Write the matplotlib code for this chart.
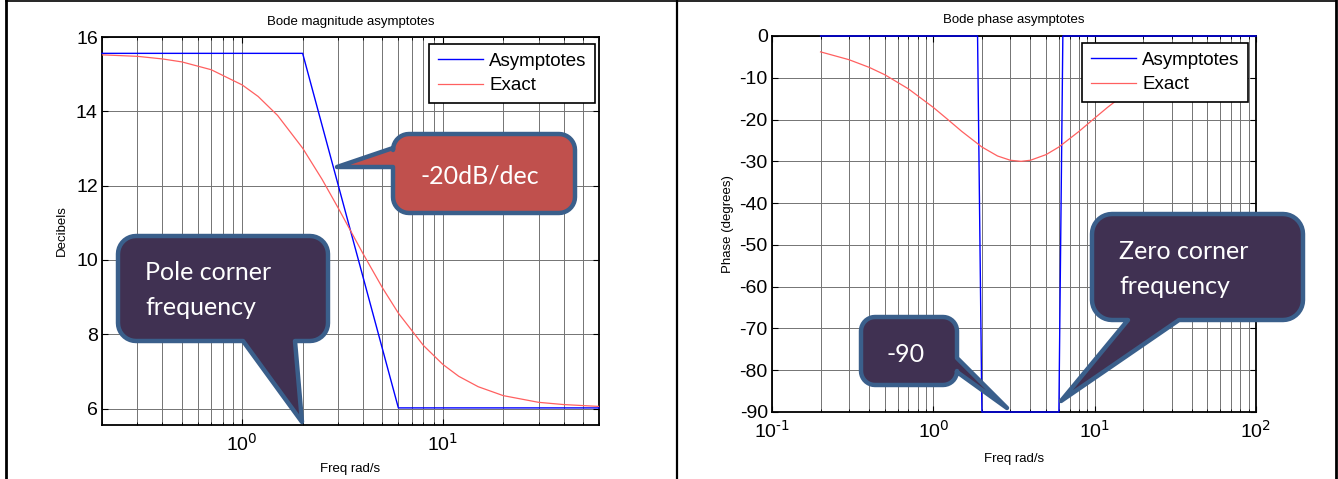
import matplotlib
matplotlib.use("Agg")
import matplotlib.pyplot as plt
import numpy as np
from matplotlib.patches import Polygon
from matplotlib.ticker import LogLocator, NullFormatter, FuncFormatter

# data
mag_freq = [0.2, 0.3, 0.4, 0.5, 0.7, 1, 1.2, 1.5, 2, 2.5, 3, 4, 5, 6, 8, 10, 12, 15, 20, 30, 40, 60]
mag_exact = [15.52, 15.48, 15.41, 15.33, 15.12, 14.71, 14.40, 13.89, 13.01, 12.17, 11.41, 10.17,
             9.25, 8.57, 7.70, 7.19, 6.87, 6.59, 6.35, 6.17, 6.11, 6.06]
mag_asym_freq = [0.2, 2, 6, 60]
mag_asym_db = [15.56, 15.56, 6.02, 6.02]

phase_freq = [0.2, 0.3, 0.4, 0.5, 0.7, 1, 1.2, 1.5, 2, 2.5, 3, 3.5, 4, 5, 6, 8, 10, 12, 15, 20, 30, 40, 60]
phase_exact = [-3.80, -5.67, -7.50, -9.27, -12.64, -17.10, -19.65, -22.83, -26.57, -28.72, -29.74,
               -30.0, -29.74, -28.39, -26.57, -22.83, -19.65, -17.10, -14.21, -10.99, -7.50, -5.67, -3.80]
phase_asym_freq = [0.2, 1.88, 2, 6, 6.35, 100]
phase_asym_deg = [0, 0, -90, -90, 0, 0]

W, H = 1338, 479
plt.rcParams['font.family'] = ['Liberation Sans', 'DejaVu Sans']
plt.rcParams['axes.unicode_minus'] = False
fig = plt.figure(figsize=(W / 100, H / 100), dpi=100)

ax1 = fig.add_axes([102 / W, 1 - 425 / H, (599 - 102) / W, (425 - 37) / H])
ax2 = fig.add_axes([772 / W, 1 - 412 / H, (1256 - 772) / W, (412 - 36) / H])

ax1.plot(mag_asym_freq, mag_asym_db, color='#0000ff', lw=1.0, label='Asymptotes', zorder=3, clip_on=False)
ax1.plot(mag_freq, mag_exact, color='#ff6060', lw=0.9, label='Exact', zorder=3)
ax1.set_xscale('log')
ax1.set_xlim(0.2, 60)
ax1.set_ylim(5.56, 16)
ax1.set_yticks([6, 8, 10, 12, 14, 16])
ax1.set_title('Bode magnitude asymptotes', fontsize=9.5, pad=9)
ax1.set_xlabel('Freq rad/s', fontsize=9.5, labelpad=6)
ax1.set_ylabel('Decibels', fontsize=9.5, labelpad=6)

ax2.plot(phase_asym_freq, phase_asym_deg, color='#0000ff', lw=1.0, label='Asymptotes', zorder=3, clip_on=False)
ax2.plot(phase_freq, phase_exact, color='#ff6060', lw=0.9, label='Exact', zorder=3)
ax2.set_xscale('log')
ax2.set_xlim(0.1, 100)
ax2.set_ylim(-90, 0)
ax2.set_yticks(np.arange(-90, 1, 10))
ax2.set_title('Bode phase asymptotes', fontsize=9.5, pad=9)
ax2.set_xlabel('Freq rad/s', fontsize=9.5, labelpad=8)
ax2.set_ylabel('Phase (degrees)', fontsize=9.5, labelpad=4)

# MATLAB style 10^n labels, plain hyphen in the exponent
decade_fmt = FuncFormatter(lambda v, pos: r'$\mathregular{10^{\text{%d}}}$' % round(np.log10(v)))

for ax, anchor in [(ax1, (0.992, 0.982)), (ax2, (0.984, 0.981))]:
    ax.xaxis.set_major_formatter(decade_fmt)
    ax.xaxis.set_minor_locator(LogLocator(base=10, subs=np.arange(2, 10), numticks=20))
    ax.xaxis.set_minor_formatter(NullFormatter())
    ax.grid(True, which='both', color='0.45', lw=0.7)
    ax.tick_params(which='both', direction='in', top=True, right=True, labelsize=14, pad=3)
    ax.tick_params(axis='x', which='major', pad=6)
    ax.tick_params(which='major', length=4)
    ax.tick_params(which='minor', length=2.5)
    for s in ax.spines.values():
        s.set_linewidth(1.3)
    leg = ax.legend(loc='upper right', bbox_to_anchor=anchor, fontsize=13.5, frameon=True, fancybox=False,
                    framealpha=1, edgecolor='black', borderpad=0.45, handlelength=2.4,
                    handletextpad=0.35, labelspacing=0.4, borderaxespad=0)
    leg.get_frame().set_linewidth(1.2)
    leg.set_zorder(5)


def callout(x0, y0, x1, y1, r, side, base, tip, fc):
    # rounded callout outline in pixel coords (y down), pointer on one side
    pts = []

    def arc(cx, cy, a0, a1):
        for a in np.radians(np.linspace(a0, a1, 10)):
            pts.append((cx + r * np.cos(a), cy + r * np.sin(a)))

    arc(x1 - r, y0 + r, -90, 0)
    if side == 'right':
        pts += [(x1, base[0]), tip, (x1, base[1])]
    arc(x1 - r, y1 - r, 0, 90)
    if side == 'bottom':
        pts += [(base[1], y1), tip, (base[0], y1)]
    arc(x0 + r, y1 - r, 90, 180)
    if side == 'left':
        pts += [(x0, base[1]), tip, (x0, base[0])]
    arc(x0 + r, y0 + r, 180, 270)
    xy = [(x / W, 1 - y / H) for x, y in pts]
    fig.add_artist(Polygon(xy, closed=True, transform=fig.transFigure, fc=fc, ec='#3a5f8b',
                           lw=3.2, joinstyle='round', zorder=10))


purple = '#403152'
callout(118, 236, 328, 341, 18, 'bottom', (243, 295), (302, 422), purple)
callout(393, 134, 575, 213, 16, 'left', (148, 167), (337, 167), '#c0504d')
callout(861, 317, 957, 385, 14, 'right', (358, 372), (1007, 408), purple)
callout(1092, 214, 1303, 320, 20, 'bottom', (1128, 1179), (1061, 401), purple)

txt = dict(color='white', fontsize=18, family=['Lato', 'DejaVu Sans'], zorder=11, va='center')
fig.text(145 / W, 1 - 290 / H, 'Pole corner\nfrequency', ha='left', linespacing=1.6, **txt)
fig.text(480 / W, 1 - 176 / H, '-20dB/dec', ha='center', **txt)
fig.text(906 / W, 1 - 354 / H, '-90', ha='center', **txt)
fig.text(1119 / W, 1 - 269 / H, 'Zero corner\nfrequency', ha='left', linespacing=1.6, **txt)

# table cell borders around the two plots
for x, lw in [(6, 2), (676.5, 1.6), (1336, 2)]:
    fig.add_artist(plt.Line2D([x / W, x / W], [0, 1], color='black', lw=lw, transform=fig.transFigure))
fig.add_artist(plt.Line2D([6 / W, 1336 / W], [1 - 0.8 / H, 1 - 0.8 / H], color='black', lw=1.2,
                          transform=fig.transFigure))

fig.savefig('out.png', dpi=100)
